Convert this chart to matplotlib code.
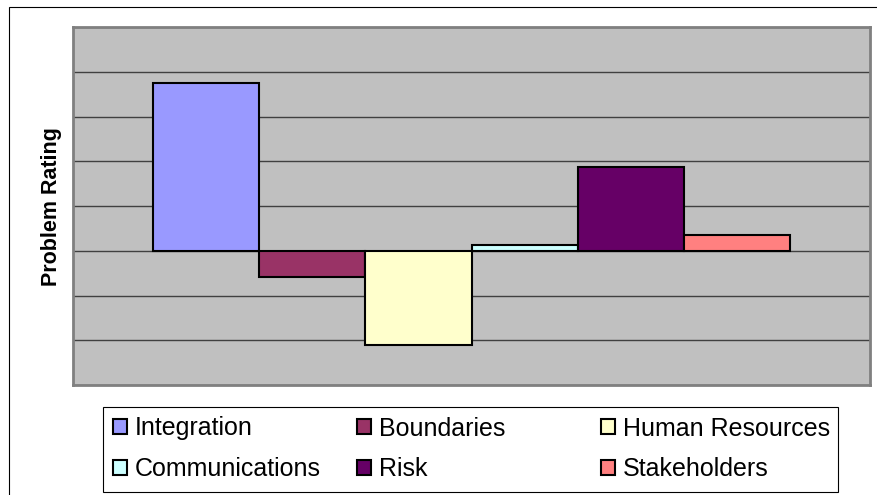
import numpy as np
import matplotlib.pyplot as plt
from matplotlib.patches import Rectangle

# Data (one grid step = 1 unit)
series = ['Integration', 'Boundaries', 'Human Resources',
          'Communications', 'Risk', 'Stakeholders']
ratings = [3.75, -0.58, -2.1, 0.13, 1.88, 0.35]
colors = ['#9999FF', '#993366', '#FFFFCC', '#CCFFFF', '#660066', '#FF8080']

plt.rcParams['font.family'] = ['Liberation Sans', 'DejaVu Sans']

W, H = 877, 495
fig = plt.figure(figsize=(W / 100, H / 100), dpi=100)

# outer chart frame (runs off the right and bottom of the picture)
fig.patches.append(Rectangle((9 / W, -0.2), 2, 1 - 7 / H + 0.2,
                             transform=fig.transFigure, fill=False,
                             edgecolor='black', linewidth=0.8))

ax = fig.add_axes([73 / W, 1 - 385 / H, (870 - 73) / W, (385 - 27) / H])
ax.set_facecolor('#C0C0C0')

bars = []
for i, (name, val, col) in enumerate(zip(series, ratings, colors)):
    b = ax.bar(i, val, width=1.0, color=col, edgecolor='black',
               linewidth=1.5, label=name, zorder=3)
    bars.append(b)

ax.set_xlim(-1.257, 6.257)
ax.set_ylim(-3, 5)
ax.set_yticks(np.arange(-3, 6, 1))
ax.set_xticks([])
ax.tick_params(axis='y', length=0, labelleft=False)
ax.grid(axis='y', color='#404040', linewidth=1.0, zorder=1)
ax.set_axisbelow(True)
for s in ax.spines.values():
    s.set_color('#808080')
    s.set_linewidth(2)

fig.text(51.7 / W, 1 - 206.5 / H, 'Problem Rating', rotation=90,
         ha='center', va='center', fontsize=15.5, fontweight='bold')

# legend box
fig.patches.append(Rectangle((103.3 / W, 1 - 491.7 / H),
                             (837.7 - 103.3) / W, (491.7 - 407.3) / H,
                             transform=fig.transFigure, facecolor='white',
                             edgecolor='black', linewidth=0.8))

# three legend columns, two rows each (row-major like the original)
col_x = [113, 356.7, 600.7]
for c in range(3):
    hs = [bars[c], bars[c + 3]]
    fig.legend(hs, [series[c], series[c + 3]], loc='center left',
               bbox_to_anchor=(col_x[c] / W, 1 - 449 / H),
               frameon=False, fontsize=18, borderpad=0, borderaxespad=0,
               handlelength=0.58, handleheight=0.58, handletextpad=0.3,
               labelspacing=0.68)

fig.savefig('out.png', dpi=100)
